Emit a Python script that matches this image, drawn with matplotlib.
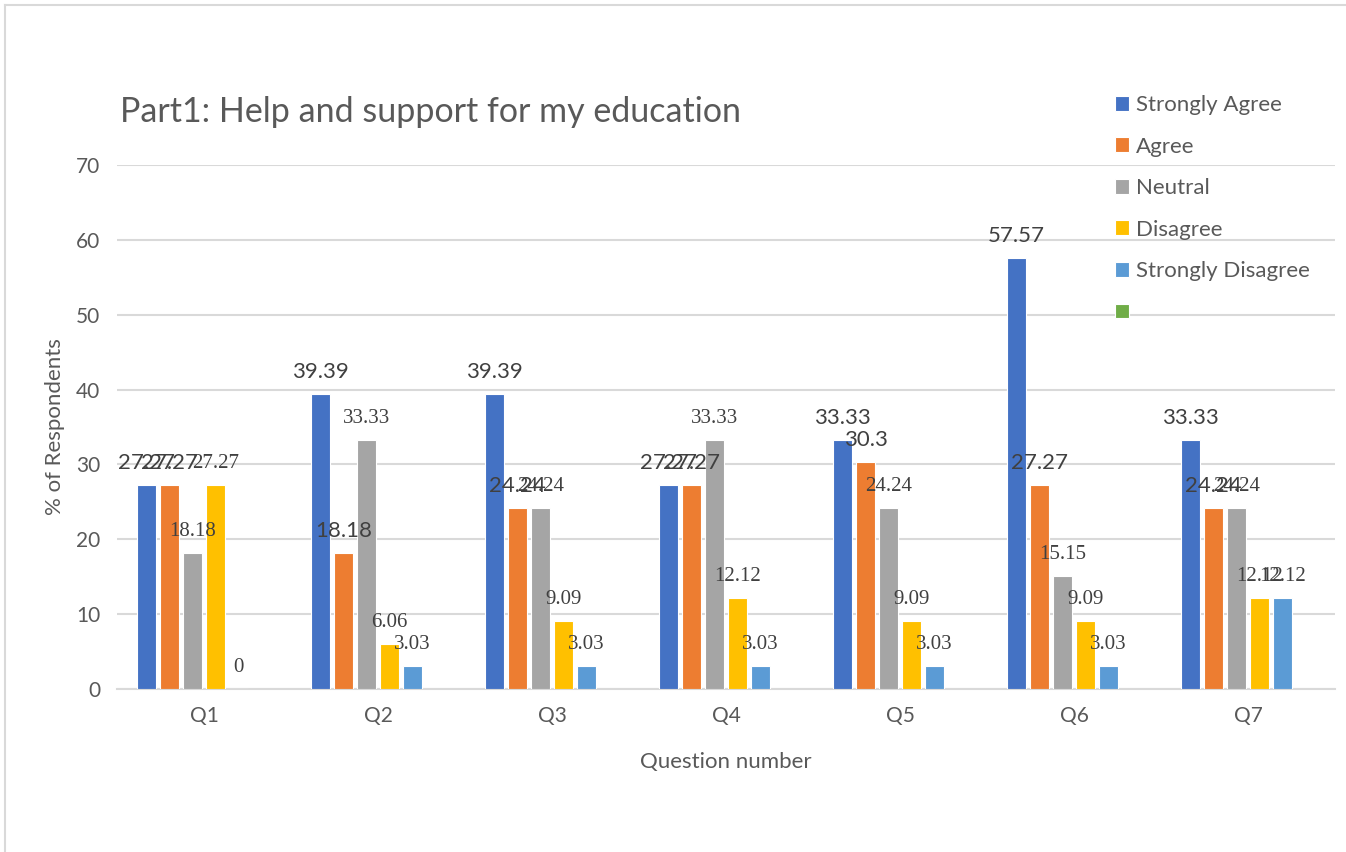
import numpy as np
import matplotlib
matplotlib.use('Agg')
import matplotlib.pyplot as plt
from matplotlib.lines import Line2D

questions = ['Q1', 'Q2', 'Q3', 'Q4', 'Q5', 'Q6', 'Q7']
series_names = ['Strongly Agree', 'Agree', 'Neutral', 'Disagree', 'Strongly Disagree', '']
strongly_agree = [27.27, 39.39, 39.39, 27.27, 33.33, 57.57, 33.33]
agree = [27.27, 18.18, 24.24, 27.27, 30.3, 27.27, 24.24]
neutral = [18.18, 33.33, 24.24, 33.33, 24.24, 15.15, 24.24]
disagree = [27.27, 6.06, 9.09, 12.12, 9.09, 9.09, 12.12]
strongly_disagree = [0, 3.03, 3.03, 3.03, 3.03, 3.03, 12.12]
empty_series = [np.nan] * 7

colors = ['#4472C4', '#ED7D31', '#A5A5A5', '#FFC000', '#5B9BD5', '#70AD47']
# first two series carry sans labels, the rest serif labels (as in the source chart)
label_fonts = ['Lato', 'Lato', 'Liberation Serif', 'Liberation Serif', 'Liberation Serif', 'Liberation Serif']
label_sizes = [16, 16, 15, 15, 15, 15]

W, H = 1346, 852
fig = plt.figure(figsize=(W / 100, H / 100), dpi=100)
fig.patch.set_facecolor('white')

left, right, y0, y70 = 117, 1335, 689, 165
ax = fig.add_axes([left / W, (H - y0) / H, (right - left) / W, (y0 - y70) / H])

all_series = [strongly_agree, agree, neutral, disagree, strongly_disagree, empty_series]
x = np.arange(len(questions))
step = 0.132
width = 0.108
handles = []
for i, (vals, name, col) in enumerate(zip(all_series, series_names, colors)):
    pos = x + (i - 2.5) * step
    bars = ax.bar(pos, vals, width=width, color=col, edgecolor='white', linewidth=0.8, zorder=3)
    handles.append(bars)
    for xp, v in zip(pos, vals):
        if np.isnan(v):
            continue
        ax.annotate('{:g}'.format(v), (xp, v), xytext=(0, 12), textcoords='offset pixels',
                    ha='center', va='bottom', fontsize=label_sizes[i],
                    family=label_fonts[i], color='#404040', zorder=5)

ax.set_xlim(-0.5, 6.5)
ax.set_ylim(0, 70)
ax.set_yticks(range(0, 71, 10))
ax.set_xticks(x)
ax.set_xticklabels(questions)
ax.grid(axis='y', color='#D9D9D9', linewidth=1.5, zorder=0)
ax.set_axisbelow(True)
for s in ['top', 'right', 'left']:
    ax.spines[s].set_visible(False)
ax.spines['bottom'].set_color('#D9D9D9')
ax.spines['bottom'].set_linewidth(1.5)
ax.tick_params(length=0, labelsize=15, labelcolor='#595959', pad=12)
for lab in ax.get_xticklabels() + ax.get_yticklabels():
    lab.set_family('Lato')

ax.set_xlabel('Question number', fontsize=16, color='#595959', family='Lato', labelpad=19)
ax.set_ylabel('% of Respondents', fontsize=16, color='#595959', family='Lato', labelpad=8)

fig.text(120 / W, 1 - 112 / H, 'Part1: Help and support for my education', fontsize=24.5,
         color='#595959', family='Lato', va='center', ha='left')

leg = fig.legend(handles, series_names, loc='upper left', bbox_to_anchor=(1115 / W, 1 - 95 / H),
                 frameon=False, labelcolor='#595959', handlelength=0.65,
                 handleheight=0.65, handletextpad=0.3, labelspacing=0.97, borderpad=0,
                 borderaxespad=0, prop={'family': 'Lato', 'size': 16})

# outer chart border (top and left edges are visible)
fig.add_artist(Line2D([5 / W, 1], [1 - 5 / H, 1 - 5 / H], color='#D9D9D9', linewidth=1.5))
fig.add_artist(Line2D([5 / W, 5 / W], [0, 1 - 5 / H], color='#D9D9D9', linewidth=1.5))

fig.savefig('out.png', dpi=100)
